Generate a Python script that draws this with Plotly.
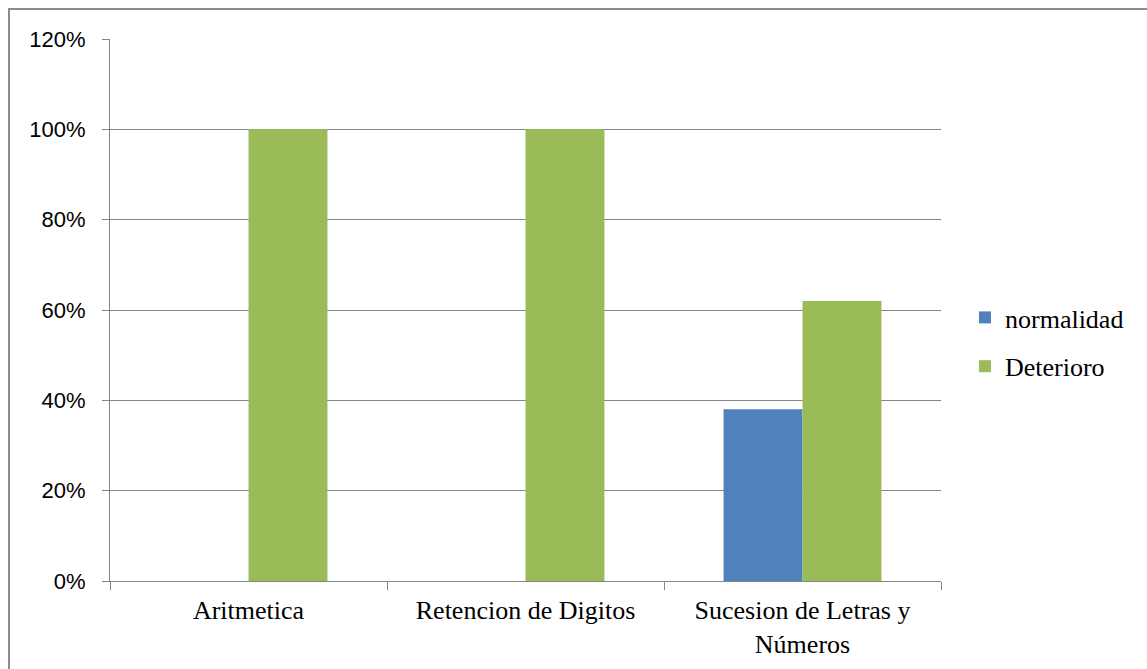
import plotly.graph_objects as go

categories = ["Aritmetica", "Retencion de Digitos", "Sucesion de Letras y<br>Números"]
normalidad = [0, 0, 0.38]
deterioro = [1.0, 1.0, 0.62]
y_ticks = [0, 0.2, 0.4, 0.6, 0.8, 1.0, 1.2]
y_tick_labels = ["0%", "20%", "40%", "60%", "80%", "100%", "120%"]

W, H = 1147, 669
L, R, T, B = 110, 941, 39, 581

fig = go.Figure()
fig.add_trace(go.Bar(x=categories, y=normalidad, name="normalidad",
                     marker=dict(color="#4F81BD", line=dict(width=0)), legendgroup="a"))
fig.add_trace(go.Bar(x=categories, y=deterioro, name="Deterioro",
                     marker=dict(color="#9BBB59", line=dict(width=0)), legendgroup="b"))

pw, ph = R - L, B - T
fig.add_shape(type="rect", xref="paper", yref="paper",
              x0=(9 - L) / pw, x1=(W + 5 - L) / pw,
              y0=(B - (H + 5)) / ph, y1=(B - 9) / ph,
              line=dict(color="#8c8c8c", width=2), fillcolor="rgba(0,0,0,0)", layer="below")

fig.update_layout(
    width=W, height=H,
    margin=dict(l=L, r=W - R, t=T, b=H - B, pad=0, autoexpand=False),
    paper_bgcolor="white", plot_bgcolor="white",
    barmode="group", bargap=0.43, bargroupgap=0,
    showlegend=True,
    legend=dict(x=(965 - L) / pw, y=(B - 342) / ph, xanchor="left", yanchor="middle",
                font=dict(family="Liberation Serif", size=26, color="black"),
                tracegroupgap=12, bgcolor="rgba(0,0,0,0)", itemwidth=30),
    font=dict(family="Liberation Serif", color="black"),
)
fig.update_xaxes(
    type="category", tickson="boundaries", ticks="outside", ticklen=8,
    tickcolor="#868686", tickwidth=1,
    showline=True, linecolor="#868686", linewidth=1, showgrid=False,
    tickfont=dict(family="Liberation Serif", size=26, color="black"),
    ticklabelstandoff=6,
)
fig.update_yaxes(
    range=[0, 1.2], tickvals=y_ticks, ticktext=y_tick_labels,
    ticks="outside", ticklen=7, tickcolor="#868686", tickwidth=1,
    showline=True, linecolor="#868686", linewidth=1,
    showgrid=True, gridcolor="#868686", gridwidth=1,
    tickfont=dict(family="Liberation Sans", size=22, color="black"),
    zeroline=False, ticklabelstandoff=12,
)
fig.write_html("out.html")
